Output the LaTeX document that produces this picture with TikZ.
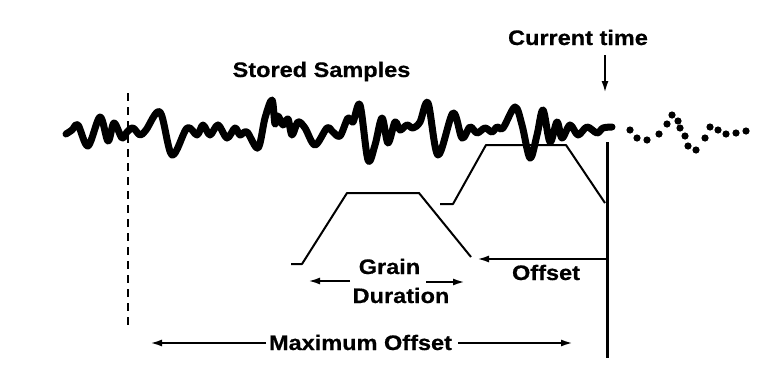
\documentclass[tikz,border=0pt]{standalone}
\usepackage{fontspec}
\setmainfont{Liberation Sans}[FakeStretch=1.12, BoldFeatures={FakeBold=0.6}]
\usetikzlibrary{arrows.meta}
\tikzset{
  lbl/.style={font=\fontsize{21}{25}\selectfont\bfseries, inner sep=0pt, anchor=base},
  thin line/.style={line width=2pt, line join=round},
  arr/.style={line width=2.2pt, -{Latex[length=12pt,width=7pt]}},
  wave/.style={line width=7pt, line cap=round, line join=round},
  dot/.style={fill=black},
}
\begin{document}
\begin{tikzpicture}[x=1pt,y=-1pt]
\useasboundingbox (0,0) rectangle (776,372);
% waveform
\draw[wave] plot[smooth, tension=0.55] coordinates {
 (66,134) (72,130) (78,125) (88,146) (100,117) (108,141) (114,123) (122,138)
 (127,132) (133,128) (140,135) (146,130) (160,112) (172,155) (187,128)
 (197,135) (203,125) (210,135) (218,125) (227,138) (235,128) (240,135) (247,132)
 (258,148) (265,118) (272,100) (275,124) (278,116) (283,125) (288,119) (292,135)
 (298,122) (305,128) (315,145) (327,128) (333,132) (340,136) (348,118) (353,122)
 (360,105) (368,160) (375,145) (382,118) (388,143) (395,122) (400,130) (407,125)
 (413,128) (420,122) (428,103) (438,155) (453,113) (462,138) (470,127) (477,133)
 (485,128) (492,132) (497,127) (503,128) (515,107) (522,125) (530,158) (537,135)
 (543,110) (550,142) (557,122) (562,138) (570,125) (578,135) (587,127) (597,133) (603,128) (612,127)};
% dotted continuation
\foreach \p in {(630,130),(637,138),(647,140),(659,134),(667,124),(672,115),(678,121),(680,128),(685,136),(688,146),(696,150),(705,138),(710,127),(718,130),(726,134),(736,133),(746,131)}
  \fill[dot] \p circle (3.6pt);
% dashed max offset line
\coordinate (dtop) at (128,93);
\coordinate (dbot) at (128,325);
\draw[line width=2.2pt, dash pattern=on 8pt off 6pt] (dtop) -- (dbot);
% current time line
\coordinate (ctop) at (607,142);
\coordinate (cbot) at (607,358);
\draw[line width=3pt] (ctop) -- (cbot);
% grains
\coordinate (g1a) at (440,204); \coordinate (g1b) at (453,204);
\coordinate (g1c) at (486,145); \coordinate (g1d) at (566,145);
\coordinate (g1e) at (605,203);
\draw[thin line] (g1a) -- (g1b) -- (g1c) -- (g1d) -- (g1e);
\coordinate (g2a) at (291,264); \coordinate (g2b) at (302,264);
\coordinate (g2c) at (347,193); \coordinate (g2d) at (419,193);
\coordinate (g2e) at (471,257);
\draw[thin line] (g2a) -- (g2b) -- (g2c) -- (g2d) -- (g2e);
% labels
\node[lbl] (stored) at (321.5,77) {Stored Samples};
\node[lbl] (current) at (578,45) {Current time};
\node[lbl] (grain) at (389.5,274) {Grain};
\node[lbl] (duration) at (401,303) {Duration};
\node[lbl] (offset) at (546,280) {Offset};
\node[lbl] (maxoff) at (360.5,350) {Maximum Offset};
% arrows
\coordinate (cta) at (605,55); \coordinate (ctb) at (605,93);
\draw[arr] (cta) -- (ctb);
\coordinate (ofa) at (607,259); \coordinate (ofb) at (477,259);
\draw[arr] (ofa) -- (ofb);
\coordinate (gda) at (350,281); \coordinate (gdb) at (308,281);
\draw[arr] (gda) -- (gdb);
\coordinate (gdc) at (426,282); \coordinate (gdd) at (465,282);
\draw[arr] (gdc) -- (gdd);
\coordinate (moa) at (266,343); \coordinate (mob) at (150,343);
\draw[arr] (moa) -- (mob);
\coordinate (moc) at (458,343); \coordinate (mod) at (573,343);
\draw[arr] (moc) -- (mod);
\end{tikzpicture}
\end{document}
